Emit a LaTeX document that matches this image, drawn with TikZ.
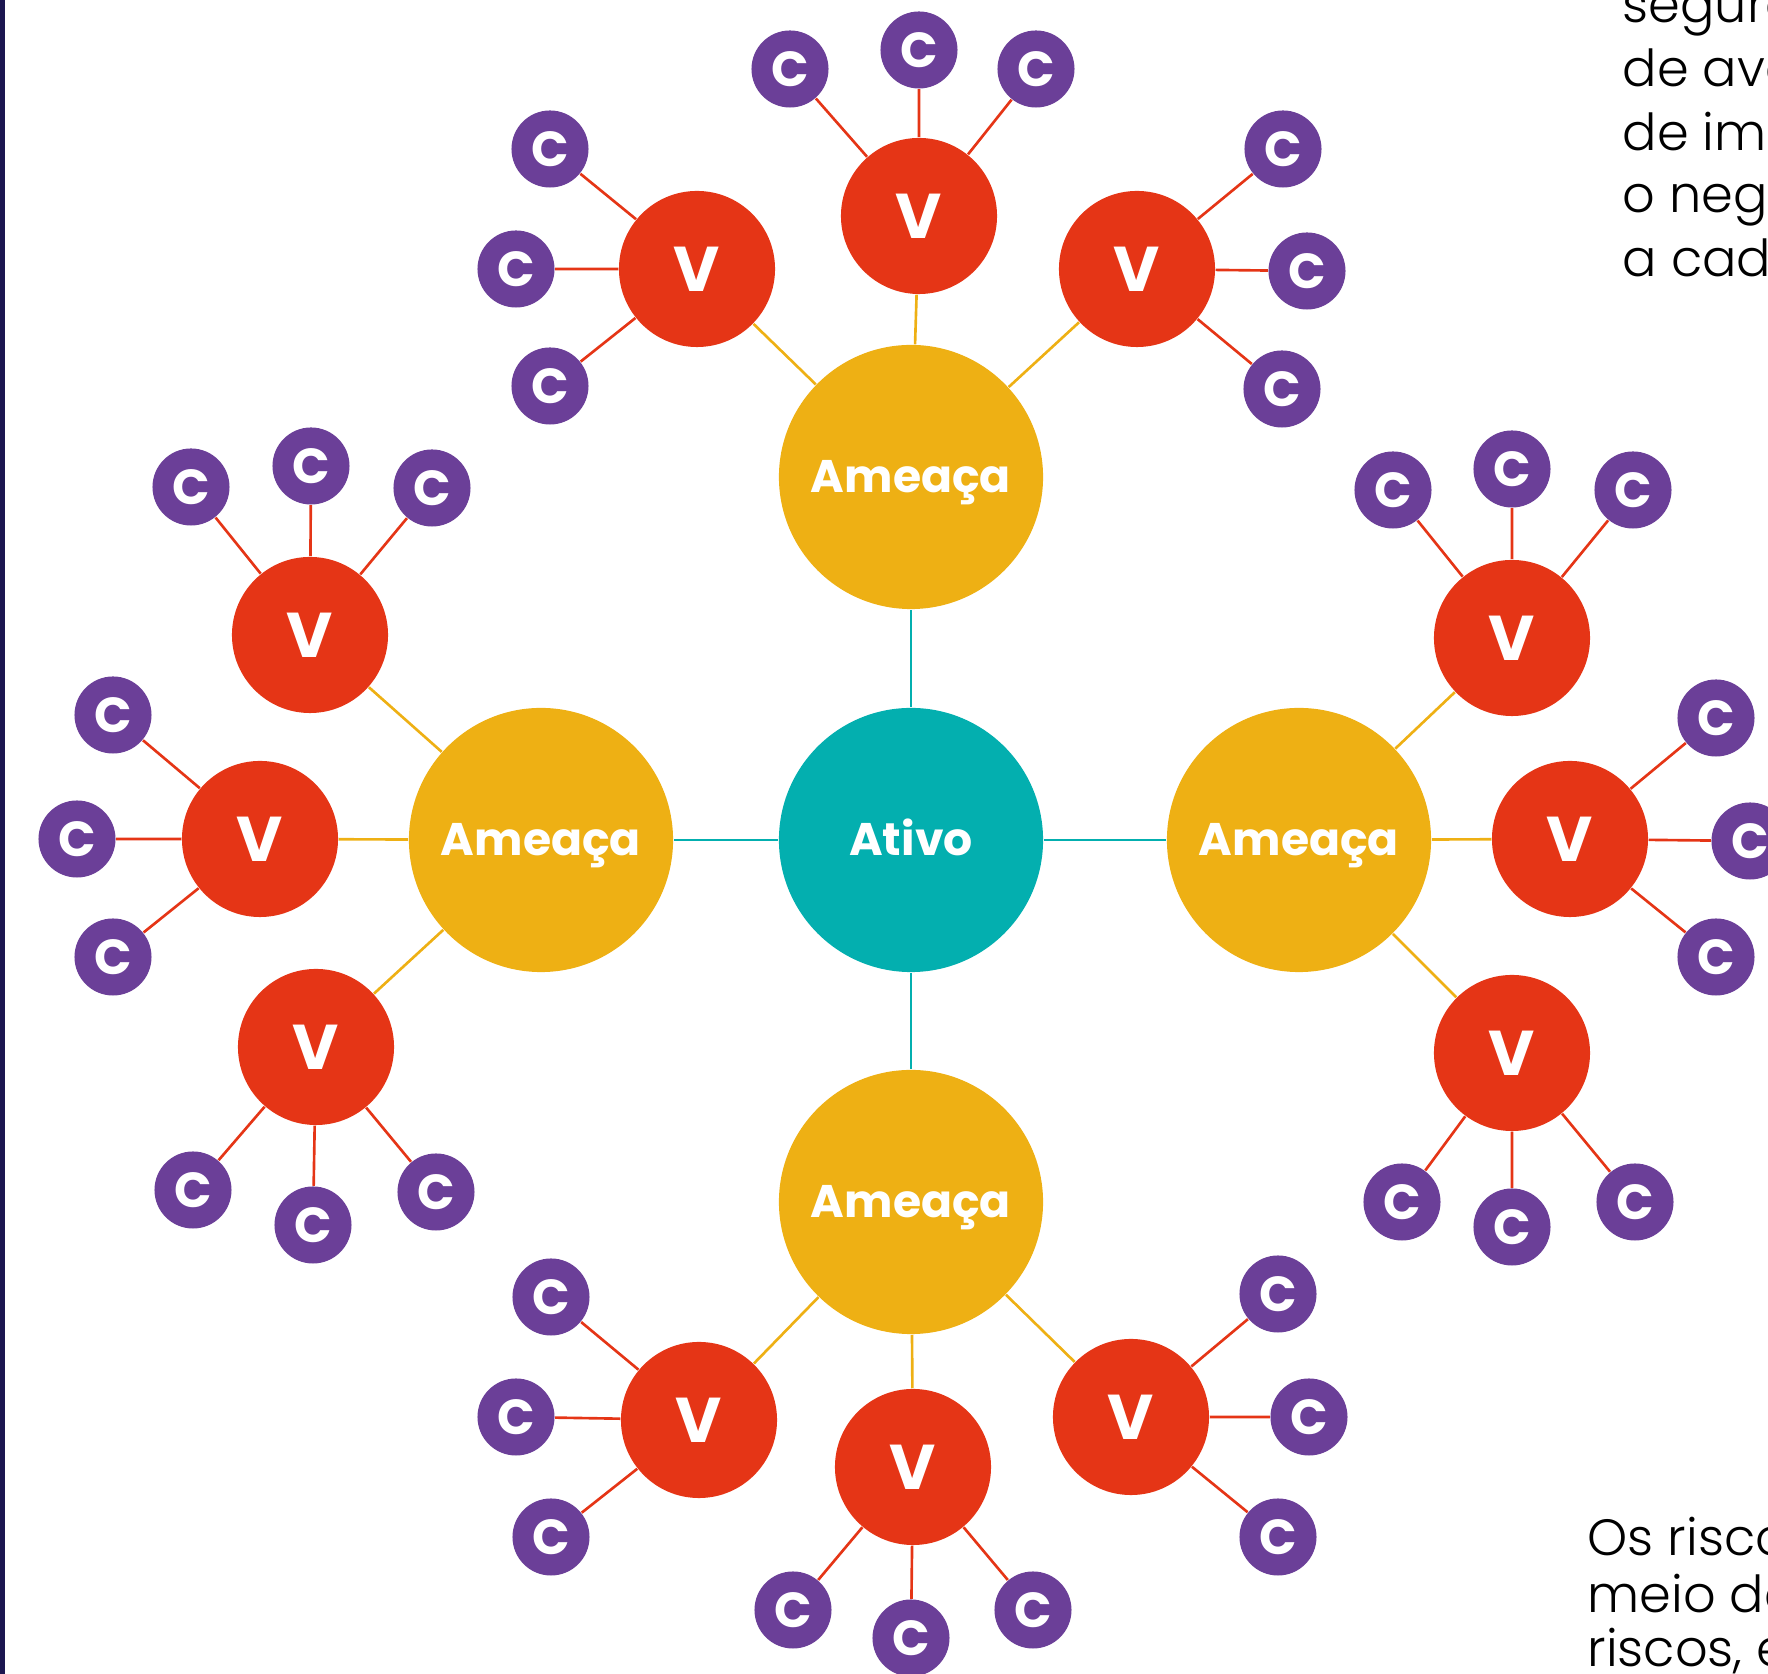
\documentclass[tikz,border=0pt]{standalone}
\usepackage{fontspec}
\setmainfont{Poppins}
\newfontfamily\bodyfont{Poppins Light}
\usepackage{xcolor}
\usepackage{tikz}
\usetikzlibrary{positioning}

\definecolor{ativoteal}{HTML}{03AFAF}
\definecolor{ameacaamber}{HTML}{EEB014}
\definecolor{vulnred}{HTML}{E53516}
\definecolor{ctrlpurple}{HTML}{6B3F98}
\definecolor{barnavy}{HTML}{1C1650}

\begin{document}
\begin{tikzpicture}[x=0.01cm, y=-0.01cm,
    ball/.style={circle, inner sep=0pt, text=white, text depth=0pt},
    ativo/.style={ball, fill=ativoteal, minimum size=2.64cm, text height=9.1pt, font=\bfseries\fontsize{13}{15}\selectfont},
    ameaca/.style={ball, fill=ameacaamber, minimum size=2.64cm, text height=9.1pt, font=\bfseries\fontsize{13}{15}\selectfont},
    vuln/.style={ball, fill=vulnred, minimum size=1.56cm, text height=12.6pt, font=\bfseries\fontsize{18}{20}\selectfont},
    ctrl/.style={ball, fill=ctrlpurple, minimum size=0.77cm, text height=9.8pt, font=\bfseries\fontsize{14}{16}\selectfont},
    tealline/.style={ativoteal, line width=0.75pt},
    amberline/.style={ameacaamber, line width=0.75pt},
    redline/.style={vulnred, line width=0.75pt},
    bodytext/.style={anchor=base west, inner sep=0pt, font=\bodyfont\fontsize{14.5}{18}\selectfont}]
    \clip (0,0) rectangle (1768,1674);
    \fill[barnavy] (0,0) rectangle (5,1674);

    % centre and threats
    \node[ativo] (at) at (911,840) {Ativo};
    \node[ameaca] (am1) at (911,477) {Ameaça};
    \node[ameaca] (am2) at (541,840) {Ameaça};
    \node[ameaca] (am3) at (1299,840) {Ameaça};
    \node[ameaca] (am4) at (911,1202) {Ameaça};
    \draw[tealline] (at) -- (am1) (at) -- (am2) (at) -- (am3) (at) -- (am4);

    % top
    \node[vuln] (v11) at (697,269) {V};
    \node[vuln] (v12) at (919,216) {V};
    \node[vuln] (v13) at (1137,269) {V};
    \node[ctrl] (c111) at (550,149) {C};
    \node[ctrl] (c112) at (516,269) {C};
    \node[ctrl] (c113) at (550,386) {C};
    \node[ctrl] (c121) at (790,69) {C};
    \node[ctrl] (c122) at (919,50) {C};
    \node[ctrl] (c123) at (1036,69) {C};
    \node[ctrl] (c131) at (1283,149) {C};
    \node[ctrl] (c132) at (1307,271) {C};
    \node[ctrl] (c133) at (1282,389) {C};
    \draw[amberline] (am1) -- (v11) (am1) -- (v12) (am1) -- (v13);
    \draw[redline] (v11) -- (c111) (v11) -- (c112) (v11) -- (c113);
    \draw[redline] (v12) -- (c121) (v12) -- (c122) (v12) -- (c123);
    \draw[redline] (v13) -- (c131) (v13) -- (c132) (v13) -- (c133);

    % left
    \node[vuln] (v21) at (310,635) {V};
    \node[vuln] (v22) at (260,839) {V};
    \node[vuln] (v23) at (316,1047) {V};
    \node[ctrl] (c211) at (191,487) {C};
    \node[ctrl] (c212) at (311,466) {C};
    \node[ctrl] (c213) at (432,488) {C};
    \node[ctrl] (c221) at (113,715) {C};
    \node[ctrl] (c222) at (77,839) {C};
    \node[ctrl] (c223) at (113,957) {C};
    \node[ctrl] (c231) at (193,1190) {C};
    \node[ctrl] (c232) at (313,1225) {C};
    \node[ctrl] (c233) at (436,1192) {C};
    \draw[amberline] (am2) -- (v21) (am2) -- (v22) (am2) -- (v23);
    \draw[redline] (v21) -- (c211) (v21) -- (c212) (v21) -- (c213);
    \draw[redline] (v22) -- (c221) (v22) -- (c222) (v22) -- (c223);
    \draw[redline] (v23) -- (c231) (v23) -- (c232) (v23) -- (c233);

    % right
    \node[vuln] (v31) at (1512,638) {V};
    \node[vuln] (v32) at (1570,839) {V};
    \node[vuln] (v33) at (1512,1053) {V};
    \node[ctrl] (c311) at (1393,490) {C};
    \node[ctrl] (c312) at (1512,469) {C};
    \node[ctrl] (c313) at (1633,490) {C};
    \node[ctrl] (c321) at (1716,718) {C};
    \node[ctrl] (c322) at (1750,841) {C};
    \node[ctrl] (c323) at (1716,957) {C};
    \node[ctrl] (c331) at (1402,1202) {C};
    \node[ctrl] (c332) at (1512,1227) {C};
    \node[ctrl] (c333) at (1635,1202) {C};
    \draw[amberline] (am3) -- (v31) (am3) -- (v32) (am3) -- (v33);
    \draw[redline] (v31) -- (c311) (v31) -- (c312) (v31) -- (c313);
    \draw[redline] (v32) -- (c321) (v32) -- (c322) (v32) -- (c323);
    \draw[redline] (v33) -- (c331) (v33) -- (c332) (v33) -- (c333);

    % bottom
    \node[vuln] (v41) at (699,1420) {V};
    \node[vuln] (v42) at (913,1467) {V};
    \node[vuln] (v43) at (1131,1417) {V};
    \node[ctrl] (c411) at (551,1297) {C};
    \node[ctrl] (c412) at (516,1417) {C};
    \node[ctrl] (c413) at (551,1537) {C};
    \node[ctrl] (c421) at (793,1610) {C};
    \node[ctrl] (c422) at (911,1638) {C};
    \node[ctrl] (c423) at (1033,1610) {C};
    \node[ctrl] (c431) at (1278,1294) {C};
    \node[ctrl] (c432) at (1309,1417) {C};
    \node[ctrl] (c433) at (1278,1537) {C};
    \draw[amberline] (am4) -- (v41) (am4) -- (v42) (am4) -- (v43);
    \draw[redline] (v41) -- (c411) (v41) -- (c412) (v41) -- (c413);
    \draw[redline] (v42) -- (c421) (v42) -- (c422) (v42) -- (c423);
    \draw[redline] (v43) -- (c431) (v43) -- (c432) (v43) -- (c433);

    % text cut by the page edge
    \node[bodytext] (t1) at (1622,23) {seguro};
    \node[bodytext] (t2) at (1622,87) {de avaliação};
    \node[bodytext] (t3) at (1622,151) {de impacto};
    \node[bodytext] (t4) at (1622,213) {o negócio};
    \node[bodytext] (t5) at (1622,277) {a cada};
    \node[bodytext] (t6) at (1587,1556) {Os riscos};
    \node[bodytext] (t7) at (1587,1613) {meio de};
    \node[bodytext] (t8) at (1587,1667) {riscos, e};
\end{tikzpicture}
\end{document}
